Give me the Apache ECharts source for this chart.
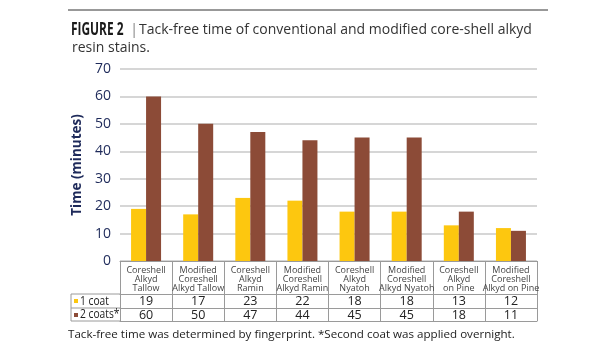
<!doctype html>
<html lang="en">
<head>
<meta charset="UTF-8">
<title>Figure 2</title>
<script src="https://cdn.jsdelivr.net/npm/echarts@6/dist/echarts.min.js"></script>
<style>
  html, body { margin: 0; padding: 0; background: #fff; }
  #chart { width: 615px; height: 350px; }
</style>
</head>
<body>
<div id="chart"></div>
<script>
// data
var categories = [
    'Coreshell\nAlkyd\nTallow',
    'Modified\nCoreshell\nAlkyd Tallow',
    'Coreshell\nAlkyd\nRamin',
    'Modified\nCoreshell\nAlkyd Ramin',
    'Coreshell\nAlkyd\nNyatoh',
    'Modified\nCoreshell\nAlkyd Nyatoh',
    'Coreshell\nAlkyd\non Pine',
    'Modified\nCoreshell\nAlkyd on Pine'
];
var oneCoat = [19, 17, 23, 22, 18, 18, 13, 12];
var twoCoats = [60, 50, 47, 44, 45, 45, 18, 11];
var seriesNames = ['1 coat', '2 coats*'];

var yellow = '#FDC70F';
var brown = '#8C4B37';
var navy = '#1E2A5A';
var lineCol = '#9a9a9a';
var font = '"Open Sans", "Noto Sans", sans-serif';

var myChart = echarts.init(document.getElementById('chart'));

// one table row under the plot = an extra category axis pushed down
function rowAxis(offset, values) {
    return {
        type: 'category',
        data: categories,
        position: 'bottom',
        offset: offset,
        axisLine: { show: true, lineStyle: { color: lineCol, width: 1 } },
        axisTick: { show: false },
        axisLabel: {
            show: !!values,
            interval: 0,
            margin: 1,
            fontSize: 12.5,
            fontFamily: font,
            color: '#222',
            formatter: function (v, i) { return values ? String(values[i]) : ''; }
        }
    };
}

var option = {
    animation: false,
    grid: { left: 120, right: 78, top: 69, bottom: 89 },
    xAxis: [
        {
            type: 'category',
            data: categories,
            axisLine: { show: true, lineStyle: { color: lineCol, width: 1 } },
            axisTick: { show: true, interval: 0, length: 60, lineStyle: { color: lineCol } },
            axisLabel: {
                interval: 0,
                margin: 5,
                fontSize: 9,
                lineHeight: 8.8,
                fontFamily: font,
                color: '#444'
            }
        },
        rowAxis(33, oneCoat),
        rowAxis(47, twoCoats),
        rowAxis(60, null)
    ],
    yAxis: {
        type: 'value',
        min: 0,
        max: 70,
        interval: 10,
        name: 'Time (minutes)',
        nameLocation: 'middle',
        nameGap: 36,
        nameTextStyle: { fontSize: 13.5, fontWeight: 'bold', fontFamily: font, color: navy },
        axisLine: { show: false },
        axisTick: { show: false },
        axisLabel: { fontSize: 14, fontFamily: font, color: navy, margin: 9 },
        splitLine: { lineStyle: { color: '#c8c8c8', width: 1.5 } }
    },
    series: [
        {
            name: seriesNames[0],
            type: 'bar',
            data: oneCoat,
            barWidth: 15,
            barGap: '0%',
            itemStyle: { color: yellow }
        },
        {
            name: seriesNames[1],
            type: 'bar',
            data: twoCoats,
            barWidth: 15,
            itemStyle: { color: brown }
        }
    ],
    graphic: [
        // top rule
        { type: 'line', shape: { x1: 68, y1: 10, x2: 548, y2: 10 }, style: { stroke: '#333', lineWidth: 1 } },
        // title
        {
            type: 'text', x: 71, y: 30, scaleX: 0.7,
            style: { text: 'FIGURE 2', fontFamily: font, fontWeight: 'bold', fontSize: 17, fill: '#1a1a1a', verticalAlign: 'middle' }
        },
        { type: 'text', x: 130, y: 30, style: { text: '|', fontFamily: font, fontSize: 15, fill: '#888', verticalAlign: 'middle' } },
        {
            type: 'text', x: 139, y: 30,
            style: { text: 'Tack-free time of conventional and modified core-shell alkyd', fontFamily: font, fontSize: 14, fill: '#333', verticalAlign: 'middle' }
        },
        { type: 'text', x: 72, y: 48, style: { text: 'resin stains.', fontFamily: font, fontSize: 14, fill: '#333', verticalAlign: 'middle' } },
        // legend column of the table
        { type: 'line', shape: { x1: 71, y1: 294, x2: 120, y2: 294 }, style: { stroke: lineCol } },
        { type: 'line', shape: { x1: 71, y1: 308, x2: 120, y2: 308 }, style: { stroke: lineCol } },
        { type: 'line', shape: { x1: 71, y1: 321, x2: 120, y2: 321 }, style: { stroke: lineCol } },
        { type: 'line', shape: { x1: 71, y1: 294, x2: 71, y2: 321 }, style: { stroke: lineCol } },
        { type: 'rect', shape: { x: 74, y: 299, width: 4, height: 4 }, style: { fill: yellow } },
        { type: 'rect', shape: { x: 74, y: 313, width: 4, height: 4 }, style: { fill: brown } },
        { type: 'text', x: 80, y: 301, scaleX: 0.82, style: { text: seriesNames[0], fontFamily: font, fontSize: 12.5, fill: '#222', verticalAlign: 'middle' } },
        { type: 'text', x: 80, y: 314.5, scaleX: 0.82, style: { text: seriesNames[1], fontFamily: font, fontSize: 12.5, fill: '#222', verticalAlign: 'middle' } },
        // footnote
        {
            type: 'text', x: 68, y: 335,
            style: { text: 'Tack-free time was determined by fingerprint. *Second coat was applied overnight.', fontFamily: font, fontSize: 11.6, fill: '#222', verticalAlign: 'middle' }
        }
    ]
};

myChart.setOption(option);
</script>
</body>
</html>
